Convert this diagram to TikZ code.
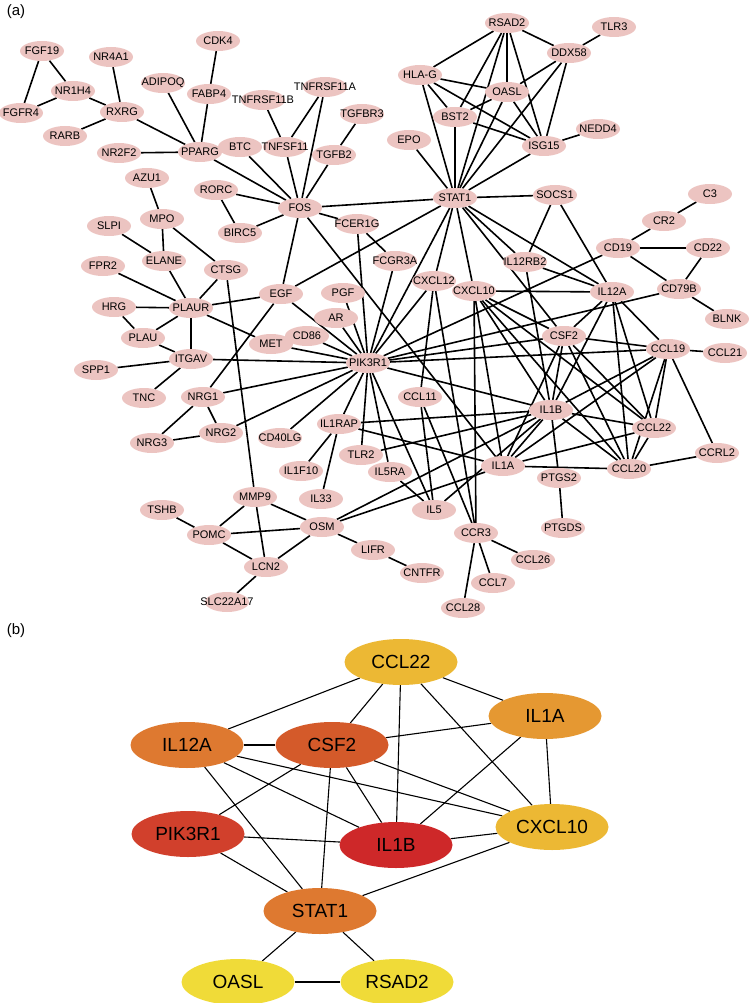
\documentclass[tikz,border=0pt]{standalone}
\usepackage{fontspec}
\setmainfont{Liberation Sans}
\usetikzlibrary{shapes.geometric}
\pgfdeclarelayer{edges}
\pgfsetlayers{edges,main}
\definecolor{pinkn}{RGB}{236,196,193}
\definecolor{cY}{RGB}{240,219,56}
\definecolor{cYO}{RGB}{236,184,52}
\definecolor{cO1}{RGB}{229,152,50}
\definecolor{cO2}{RGB}{222,121,48}
\definecolor{cRO}{RGB}{212,90,42}
\definecolor{cR1}{RGB}{209,64,44}
\definecolor{cR2}{RGB}{206,40,41}
\tikzset{
  an/.style={ellipse, fill=pinkn, minimum width=44pt, minimum height=20pt, inner sep=0pt},
  lab/.style={inner sep=0pt, font=\fontsize{11}{12}\selectfont},
  ea/.style={line width=1.6pt, black},
  bn/.style={ellipse, minimum width=113pt, minimum height=46pt, inner sep=0pt, font=\fontsize{19}{22}\selectfont},
  eb/.style={line width=1.1pt, black},
  plab/.style={inner sep=0pt, font=\fontsize{15}{17}\selectfont}
}
\newcommand{\nd}[4]{\node[an,label={[lab]center:#4}] (#1) at (#2,#3) {};}
\begin{document}
\begin{tikzpicture}[x=1pt,y=-1pt]
\useasboundingbox (0,0) rectangle (750,1003);
\node[plab] (la) at (16,12) {(a)};
\node[plab] (lb) at (16,631) {(b)};
% ---------- panel (a) nodes
\nd{FGF19}{42}{51}{FGF19}
\nd{NR4A1}{111}{57}{NR4A1}
\nd{CDK4}{218}{41}{CDK4}
\nd{NR1H4}{73}{91}{NR1H4}
\nd{ADIPOQ}{163}{83}{ADIPOQ}
\nd{FABP4}{209}{94}{FABP4}
\nd{FGFR4}{21}{113}{FGFR4}
\nd{RXRG}{122}{112}{RXRG}
\nd{RARB}{65}{136}{RARB}
\nd{NR2F2}{119}{153}{NR2F2}
\nd{PPARG}{200}{152}{PPARG}
\nd{BTC}{240}{147}{BTC}
\nd{AZU1}{147}{178}{AZU1}
\nd{RORC}{216}{190}{RORC}
\nd{TNFRSF11B}{263}{100}{TNFRSF11B}
\nd{TNFRSF11A}{325}{87}{TNFRSF11A}
\nd{TGFBR3}{362}{114}{TGFBR3}
\nd{TNFSF11}{285}{147}{TNFSF11}
\nd{TGFB2}{334}{155}{TGFB2}
\nd{HLAG}{420}{75}{HLA-G}
\nd{BST2}{455}{117}{BST2}
\nd{EPO}{409}{140}{EPO}
\nd{STAT1}{455}{198}{STAT1}
\nd{FOS}{300}{208}{FOS}
\nd{RSAD2}{507}{23}{RSAD2}
\nd{TLR3}{614}{27}{TLR3}
\nd{DDX58}{569}{53}{DDX58}
\nd{OASL}{507}{92}{OASL}
\nd{NEDD4}{598}{129}{NEDD4}
\nd{ISG15}{544}{146}{ISG15}
\nd{SOCS1}{555}{195}{SOCS1}
\nd{C3}{710}{194}{C3}
\nd{MPO}{162}{219}{MPO}
\nd{SLPI}{109}{226}{SLPI}
\nd{BIRC5}{240}{233}{BIRC5}
\nd{ELANE}{164}{261}{ELANE}
\nd{FPR2}{103}{266}{FPR2}
\nd{CTSG}{226}{270}{CTSG}
\nd{HRG}{114}{307}{HRG}
\nd{PLAUR}{191}{308}{PLAUR}
\nd{PLAU}{143}{338}{PLAU}
\nd{ITGAV}{191}{359}{ITGAV}
\nd{SPP1}{96}{370}{SPP1}
\nd{TNC}{144}{398}{TNC}
\nd{NRG1}{203}{397}{NRG1}
\nd{FCER1G}{357}{224}{FCER1G}
\nd{FCGR3A}{395}{261}{FCGR3A}
\nd{CXCL12}{434}{281}{CXCL12}
\nd{CXCL10}{474}{291}{CXCL10}
\nd{EGF}{281}{294}{EGF}
\nd{PGF}{343}{293}{PGF}
\nd{AR}{336}{318}{AR}
\nd{CD86}{307}{336}{CD86}
\nd{MET}{271}{344}{MET}
\nd{PIK3R1}{368}{363}{PIK3R1}
\nd{CCL11}{420}{397}{CCL11}
\nd{CR2}{664}{221}{CR2}
\nd{CD19}{618}{248}{CD19}
\nd{CD22}{708}{248}{CD22}
\nd{IL12RB2}{525}{262}{IL12RB2}
\nd{IL12A}{612}{292}{IL12A}
\nd{CD79B}{679}{289}{CD79B}
\nd{BLNK}{727}{319}{BLNK}
\nd{CSF2}{564}{336}{CSF2}
\nd{CCL19}{668}{349}{CCL19}
\nd{CCL21}{725}{353}{CCL21}
\nd{IL1B}{551}{410}{IL1B}
\nd{CCL22}{654}{428}{CCL22}
\nd{IL1A}{503}{466}{IL1A}
\nd{CCL20}{629}{469}{CCL20}
\nd{PTGS2}{559}{478}{PTGS2}
\nd{CCRL2}{717}{453}{CCRL2}
\nd{PTGDS}{563}{528}{PTGDS}
\nd{CCL26}{533}{560}{CCL26}
\nd{CCL7}{493}{583}{CCL7}
\nd{NRG3}{152}{443}{NRG3}
\nd{NRG2}{221}{433}{NRG2}
\nd{MMP9}{255}{497}{MMP9}
\nd{TSHB}{162}{510}{TSHB}
\nd{POMC}{209}{535}{POMC}
\nd{LCN2}{266}{567}{LCN2}
\nd{SLC22A17}{227}{602}{SLC22A17}
\nd{IL1RAP}{339}{424}{IL1RAP}
\nd{CD40LG}{280}{438}{CD40LG}
\nd{TLR2}{361}{455}{TLR2}
\nd{IL1F10}{301}{471}{IL1F10}
\nd{IL5RA}{390}{472}{IL5RA}
\nd{IL33}{321}{499}{IL33}
\nd{IL5}{434}{510}{IL5}
\nd{OSM}{322}{527}{OSM}
\nd{CCR3}{476}{533}{CCR3}
\nd{LIFR}{373}{550}{LIFR}
\nd{CNTFR}{422}{573}{CNTFR}
\nd{CCL28}{463}{608}{CCL28}
% ---------- panel (b) nodes
\node[bn, fill=cYO] (bCCL22) at (401,662) {CCL22};
\node[bn, fill=cO1] (bIL1A) at (545,716) {IL1A};
\node[bn, fill=cO2] (bIL12A) at (187,745) {IL12A};
\node[bn, fill=cRO] (bCSF2) at (332,745) {CSF2};
\node[bn, fill=cR1] (bPIK3R1) at (188,834) {PIK3R1};
\node[bn, fill=cR2] (bIL1B) at (396,845) {IL1B};
\node[bn, fill=cYO] (bCXCL10) at (552,827) {CXCL10};
\node[bn, fill=cO2] (bSTAT1) at (320,911) {STAT1};
\node[bn, fill=cY] (bOASL) at (238,982) {OASL};
\node[bn, fill=cY] (bRSAD2) at (397,982) {RSAD2};
\begin{pgfonlayer}{edges}
\foreach \a/\b in {FGF19/NR1H4, FGF19/FGFR4, NR1H4/FGFR4, NR1H4/RXRG, NR4A1/RXRG, RXRG/RARB, RXRG/PPARG,
 ADIPOQ/PPARG, CDK4/FABP4, FABP4/PPARG, NR2F2/PPARG, PPARG/FOS, BTC/FOS, RORC/FOS, RORC/BIRC5, BIRC5/FOS,
 TNFRSF11B/TNFSF11, TNFRSF11A/TNFSF11, TNFRSF11A/FOS, TGFBR3/TGFB2, TGFB2/FOS, TNFSF11/FOS, FOS/STAT1,
 FOS/FCER1G, FOS/EGF, FOS/IL1A,
 AZU1/MPO, MPO/ELANE, MPO/CTSG, SLPI/ELANE, ELANE/PLAUR, FPR2/PLAUR, CTSG/PLAUR, CTSG/MMP9, HRG/PLAUR,
 HRG/PLAU, PLAU/PLAUR, PLAU/ITGAV, PLAUR/ITGAV, PLAUR/EGF, PLAUR/MET, ITGAV/PIK3R1, ITGAV/SPP1, ITGAV/TNC,
 NRG1/EGF, NRG1/PIK3R1, NRG1/NRG3, NRG1/NRG2, NRG2/NRG3, NRG2/PIK3R1,
 EGF/PIK3R1, EGF/STAT1, FCER1G/FCGR3A, FCER1G/PIK3R1, FCGR3A/PIK3R1, PGF/PIK3R1, AR/PIK3R1, CD86/PIK3R1,
 MET/PIK3R1, STAT1/PIK3R1, CXCL12/PIK3R1, CD40LG/PIK3R1, IL1RAP/PIK3R1, TLR2/PIK3R1, IL5RA/PIK3R1,
 IL5/PIK3R1, CD19/PIK3R1, CD79B/PIK3R1, CSF2/PIK3R1, CCL19/PIK3R1, IL1B/PIK3R1,
 STAT1/EPO, STAT1/HLAG, STAT1/BST2, STAT1/RSAD2, STAT1/OASL, STAT1/DDX58, STAT1/ISG15, STAT1/SOCS1,
 STAT1/CXCL12, STAT1/CXCL10, STAT1/IL12RB2, STAT1/IL12A, STAT1/CSF2,
 HLAG/RSAD2, HLAG/OASL, HLAG/BST2, HLAG/ISG15, BST2/OASL, BST2/ISG15, BST2/RSAD2,
 RSAD2/DDX58, RSAD2/OASL, RSAD2/ISG15, DDX58/TLR3, DDX58/OASL, DDX58/ISG15, OASL/ISG15, ISG15/NEDD4,
 SOCS1/IL12RB2, SOCS1/IL12A, C3/CR2, CR2/CD19, CD19/CD22, CD19/CD79B, CD22/CD79B, CD79B/BLNK,
 IL12RB2/IL12A, IL12RB2/IL1B,
 IL12A/CXCL10, IL12A/CSF2, IL12A/IL1B, IL12A/CCL19, IL12A/CCL22, IL12A/CCL20,
 CXCL10/CSF2, CXCL10/IL1B, CXCL10/CCL22, CXCL10/CCL20, CXCL10/IL1A, CXCL10/CCR3,
 CSF2/CCL19, CSF2/IL1B, CSF2/IL1A, CSF2/CCL22, CSF2/CCL20,
 CCL19/CCL21, CCL19/CCL22, CCL19/CCL20, CCL19/CCRL2, CCL19/IL1B, CCL19/IL1A,
 IL1B/CCL22, IL1B/CCL20, IL1B/IL1A, IL1B/PTGS2, IL1B/IL1RAP, IL1B/TLR2, IL1B/OSM, IL1B/IL5,
 CCL22/CCL20, CCL22/IL1A, IL1A/CCL20, IL1A/IL1RAP, IL1A/OSM, CCL20/CCRL2, PTGS2/PTGDS,
 CXCL12/CCL11, CXCL12/CCR3, CCL11/IL5, CCL11/CCR3, IL1RAP/IL1F10, IL1RAP/IL33, IL5RA/IL5,
 OSM/MMP9, OSM/POMC, OSM/LCN2, OSM/LIFR, LIFR/CNTFR, MMP9/POMC, MMP9/LCN2, TSHB/POMC, POMC/LCN2,
 LCN2/SLC22A17, CCR3/CCL26, CCR3/CCL7, CCR3/CCL28}
 \draw[ea] (\a) -- (\b);
\foreach \a/\b in {CCL22/IL12A, CCL22/CSF2, CCL22/IL1B, CCL22/CXCL10, CCL22/IL1A, IL1A/CSF2, IL1A/IL1B,
 IL1A/CXCL10, IL12A/CSF2, IL12A/STAT1, IL12A/IL1B, IL12A/CXCL10, CSF2/PIK3R1, CSF2/STAT1, CSF2/IL1B,
 CSF2/CXCL10, PIK3R1/IL1B, PIK3R1/STAT1, IL1B/CXCL10, CXCL10/STAT1, STAT1/OASL, STAT1/RSAD2, OASL/RSAD2}
 \draw[eb] (b\a) -- (b\b);
\end{pgfonlayer}
\end{tikzpicture}
\end{document}
